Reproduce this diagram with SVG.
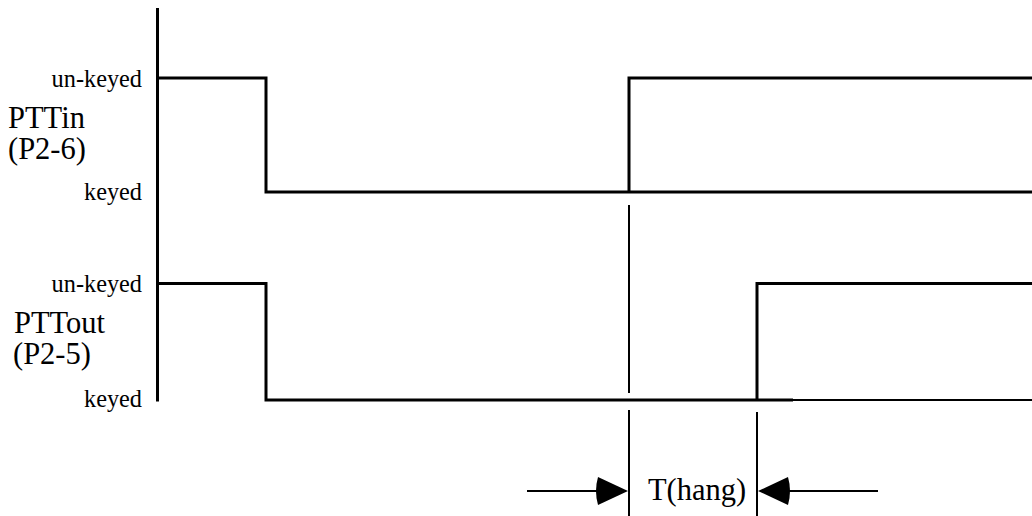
<svg xmlns="http://www.w3.org/2000/svg" width="1032" height="516" viewBox="0 0 1032 516">
<style>
.sig{fill:none;stroke:#000;stroke-width:3;stroke-linecap:butt;stroke-linejoin:miter}
.thin{fill:none;stroke:#000;stroke-width:2}
.lv{font-size:24.3px;fill:#000;text-anchor:end}
.nm{font-size:30.5px;fill:#000}
.ah{fill:#000;stroke:none}
</style>
<rect width="1032" height="516" fill="#fff"/>
<g id="axis">
<line class="sig" x1="157.5" y1="8" x2="157.5" y2="401.5"/>
</g>
<g id="pttin">
<path class="sig" d="M157.5 78 H266 V192 H1032"/>
<path class="sig" d="M629 192 V78 H1032"/>
<text class="lv" x="142" y="87" font-family="'Liberation Serif', serif">un-keyed</text>
<text class="lv" x="142" y="200" font-family="'Liberation Serif', serif">keyed</text>
<text class="nm" x="8" y="128" font-family="'Liberation Serif', serif">PTTin</text>
<text class="nm" x="8" y="159" font-family="'Liberation Serif', serif">(P2-6)</text>
</g>
<g id="pttout">
<path class="sig" d="M157.5 283.5 H266 V400 H793"/>
<path class="thin" d="M793 400 H1032"/>
<path class="sig" d="M757 400 V283.5 H1032"/>
<text class="lv" x="142" y="292" font-family="'Liberation Serif', serif">un-keyed</text>
<text class="lv" x="142" y="407" font-family="'Liberation Serif', serif">keyed</text>
<text class="nm" x="14" y="333" font-family="'Liberation Serif', serif">PTTout</text>
<text class="nm" x="13" y="364" font-family="'Liberation Serif', serif">(P2-5)</text>
</g>
<g id="connectors">
<line class="thin" x1="629" y1="205" x2="629" y2="393"/>
<line class="thin" x1="629" y1="410" x2="629" y2="516"/>
<line class="thin" x1="757" y1="412" x2="757" y2="516"/>
<line class="thin" x1="527" y1="491" x2="600" y2="491"/>
<path class="ah" d="M628 491 L598 477 Q594 491 598 505 Z"/>
<line class="thin" x1="787" y1="491" x2="878" y2="491"/>
<path class="ah" d="M758 491 L788 477 Q792 491 788 505 Z"/>
</g>
<g id="thang">
<text class="nm" x="697" y="500" text-anchor="middle" font-family="'Liberation Serif', serif">T(hang)</text>
</g>
</svg>
